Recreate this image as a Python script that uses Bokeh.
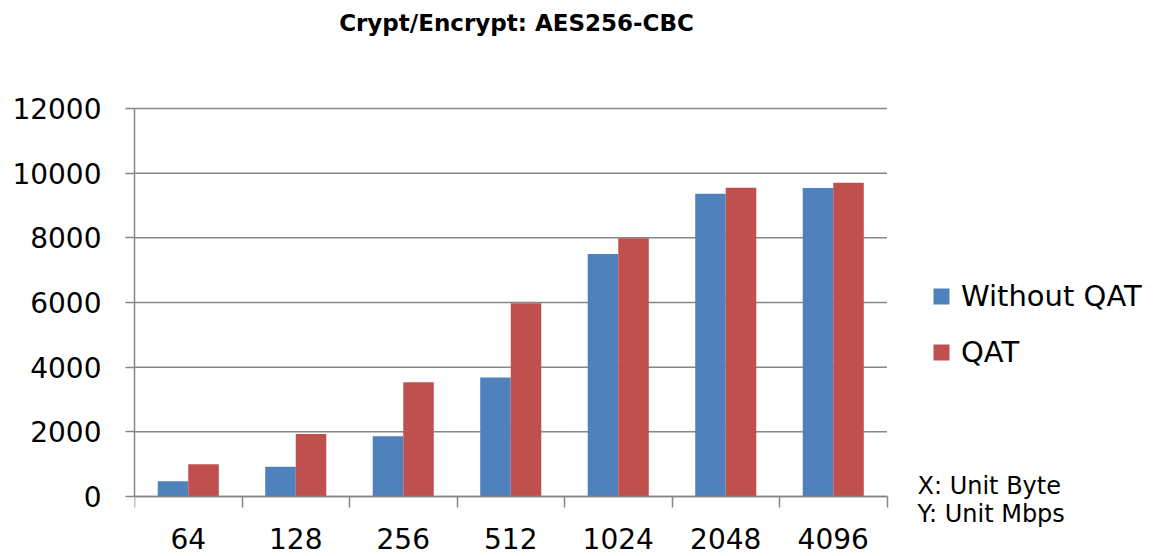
from bokeh.plotting import figure
from bokeh.models import (ColumnDataSource, FixedTicker, Range1d, Legend,
                          LegendItem, Label)
from bokeh.embed import file_html
from bokeh.resources import INLINE

# Block sizes (bytes) and throughput (Mbps)
sizes = ["64", "128", "256", "512", "1024", "2048", "4096"]
without_qat = [470, 920, 1860, 3680, 7500, 9360, 9540]
with_qat = [1000, 1930, 3530, 5980, 7990, 9550, 9700]
y_ticks = [0, 2000, 4000, 6000, 8000, 10000, 12000]
series_names = ["Without QAT", "QAT"]

BLUE = "#4F81BD"
RED = "#C0504D"
GRID = "#868686"

W, H = 1158, 556
LEFT = 134                      # room for the value axis
AXIS_Y = 496                    # pixel row of the category axis
TOP_Y = 108                     # pixel row of the top tick
CAT_PX = 107.5                  # pixel width of one category

n = len(sizes)
centers = [i + 0.5 for i in range(n)]
bar_w = 0.284

# The frame spans the whole canvas right of the value axis, so the title,
# legend and unit notes sit inside it; axes are limited with bounds.
per_px = (y_ticks[-1] - y_ticks[0]) / (AXIS_Y - TOP_Y)
y_lo = y_ticks[0] - (H - AXIS_Y) * per_px
y_hi = y_ticks[0] + AXIS_Y * per_px
x_hi = (W - LEFT) / CAT_PX

src = ColumnDataSource(dict(
    x_blue=[c - bar_w / 2 for c in centers],
    x_red=[c + bar_w / 2 for c in centers],
    without=without_qat,
    qat=with_qat,
))

p = figure(width=W, height=H,
           x_range=Range1d(0, x_hi), y_range=Range1d(y_lo, y_hi),
           output_backend="svg", toolbar_location=None,
           min_border=0, min_border_left=LEFT)
p.outline_line_color = None
p.background_fill_color = "white"
p.border_fill_color = "white"
p.xgrid.visible = False
p.ygrid.visible = False

# horizontal gridlines across the category span
p.segment(x0=[0] * len(y_ticks), x1=[n] * len(y_ticks),
          y0=y_ticks, y1=y_ticks, line_color=GRID, line_width=1.5)

r_blue = p.vbar(x="x_blue", top="without", width=bar_w, source=src,
                fill_color=BLUE, line_color=None)
r_red = p.vbar(x="x_red", top="qat", width=bar_w, source=src,
               fill_color=RED, line_color=None)

# y axis
ya = p.yaxis[0]
ya.ticker = FixedTicker(ticks=y_ticks)
ya.bounds = (y_ticks[0], y_ticks[-1])
ya.axis_line_color = GRID
ya.axis_line_width = 1.5
ya.major_tick_line_color = GRID
ya.major_tick_line_width = 1.5
ya.major_tick_out = 9
ya.major_tick_in = 0
ya.minor_tick_line_color = None
ya.major_label_text_font = "DejaVu Sans"
ya.major_label_text_font_size = "28px"
ya.major_label_text_color = "black"
ya.major_label_standoff = 24

# x axis pinned at zero: labels at category centres, ticks at boundaries
xa = p.xaxis[0]
xa.fixed_location = 0
xa.bounds = (0, n)
xa.ticker = FixedTicker(ticks=centers, minor_ticks=list(range(n + 1)))
xa.major_label_overrides = {c: s for c, s in zip(centers, sizes)}
xa.axis_line_color = GRID
xa.axis_line_width = 1.5
xa.major_tick_out = 0
xa.major_tick_in = 0
xa.major_tick_line_color = None
xa.minor_tick_line_color = GRID
xa.minor_tick_line_width = 1.5
xa.minor_tick_out = 11
xa.minor_tick_in = 0
xa.major_label_text_font = "DejaVu Sans"
xa.major_label_text_font_size = "28px"
xa.major_label_text_color = "black"
xa.major_label_standoff = 20

# legend
legend = Legend(items=[LegendItem(label=series_names[0], renderers=[r_blue]),
                       LegendItem(label=series_names[1], renderers=[r_red])],
                location=(931 - LEFT, 187))
legend.glyph_width = 20
legend.glyph_height = 20
legend.label_text_font = "DejaVu Sans"
legend.label_text_font_size = "29px"
legend.label_text_color = "black"
legend.label_standoff = 10
legend.spacing = 22
legend.padding = 0
legend.margin = 0
legend.border_line_color = None
legend.background_fill_alpha = 0
p.add_layout(legend, "center")

# title and unit notes
p.add_layout(Label(x=516 - LEFT, y=H - 22, x_units="screen", y_units="screen",
                   text="Crypt/Encrypt: AES256-CBC", text_font="DejaVu Sans",
                   text_font_style="bold", text_font_size="23px",
                   text_align="center", text_baseline="middle",
                   text_color="black"))
for txt, row in (("X: Unit Byte", 485), ("Y: Unit Mbps", 513)):
    p.add_layout(Label(x=917 - LEFT, y=H - row, x_units="screen",
                       y_units="screen", text=txt, text_font="DejaVu Sans",
                       text_font_size="24px", text_baseline="middle",
                       text_color="black"))

open("out.html", "w").write(file_html(p, INLINE))
